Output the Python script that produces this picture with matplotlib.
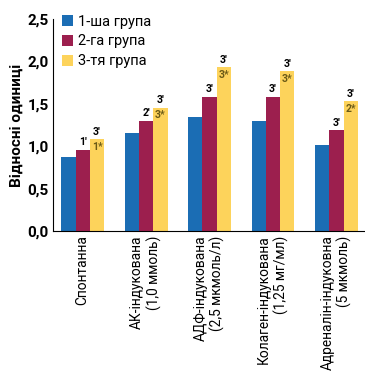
import numpy as np
import matplotlib
matplotlib.use('Agg')
import matplotlib.pyplot as plt

plt.rcParams['font.family'] = ['Roboto', 'DejaVu Sans']

# categories of aggregation and the three patient groups
categories = ['Спонтанна',
              'АК-індукована\n(1,0 ммоль)',
              'АДФ-індукована\n(2,5 мкмоль/л)',
              'Колаген-індукована\n(1,25 мг/мл)',
              'Адреналін-індуковна\n(5 мкмоль)']
group1 = [0.87, 1.155, 1.345, 1.30, 1.01]
group2 = [0.955, 1.30, 1.58, 1.58, 1.19]
group3 = [1.08, 1.45, 1.93, 1.88, 1.53]
group_names = ['1-ша група', '2-га група', '3-тя група']

# significance marks
marks2 = ["1'", "2'", "3'", "3'", "3'"]
marks3_top = ["3'", "3'", "3'", "3'", "3'"]
marks3_in = ['1*', '3*', '3*', '3*', '2*']

colors = ['#1b6db4', '#9c1f4e', '#fdd35b']

fig, ax = plt.subplots(figsize=(3.65, 3.73), dpi=100)
fig.subplots_adjust(left=0.145, right=1.0, top=0.95, bottom=0.38)

x = np.arange(len(categories))
w = 0.225
for i, (vals, col) in enumerate(zip([group1, group2, group3], colors)):
    ax.bar(x + (i - 1) * w, vals, width=w, color=col, label=group_names[i])

for i in range(len(categories)):
    ax.text(x[i], group2[i] + 0.03, marks2[i], ha='center', va='bottom',
            fontsize=7.5, fontweight='bold')
    ax.text(x[i] + w, group3[i] + 0.03, marks3_top[i], ha='center', va='bottom',
            fontsize=7.5, fontweight='bold')
    ax.text(x[i] + w, group3[i] - 0.03, marks3_in[i], ha='center', va='top',
            fontsize=7.5, fontweight='bold', color='#6b5a16')

ax.set_ylim(0, 2.5)
ax.set_xlim(-0.47, 4.45)
ax.set_yticks([0, 0.5, 1.0, 1.5, 2.0, 2.5])
ax.set_yticklabels(['0,0', '0,5', '1,0', '1,5', '2,0', '2,5'], fontsize=11, fontweight='bold')
ax.set_xticks(x)
ax.set_xticklabels(categories, rotation=90, fontsize=9.9, ha='center', va='top',
                   multialignment='right')
ax.tick_params(axis='both', length=0, pad=3)
ax.set_ylabel('Відносні одиниці', fontsize=11, fontweight='bold', labelpad=3)

for s in ['top', 'right']:
    ax.spines[s].set_visible(False)
ax.spines['left'].set_linewidth(0.8)
ax.spines['bottom'].set_linewidth(0.8)

ax.legend(loc='upper left', bbox_to_anchor=(0.0, 1.06), frameon=False, fontsize=10.5,
          handlelength=0.8, handleheight=0.8, handletextpad=0.3, labelspacing=0.4,
          borderaxespad=0.2)

fig.savefig('out.png', dpi=100)
